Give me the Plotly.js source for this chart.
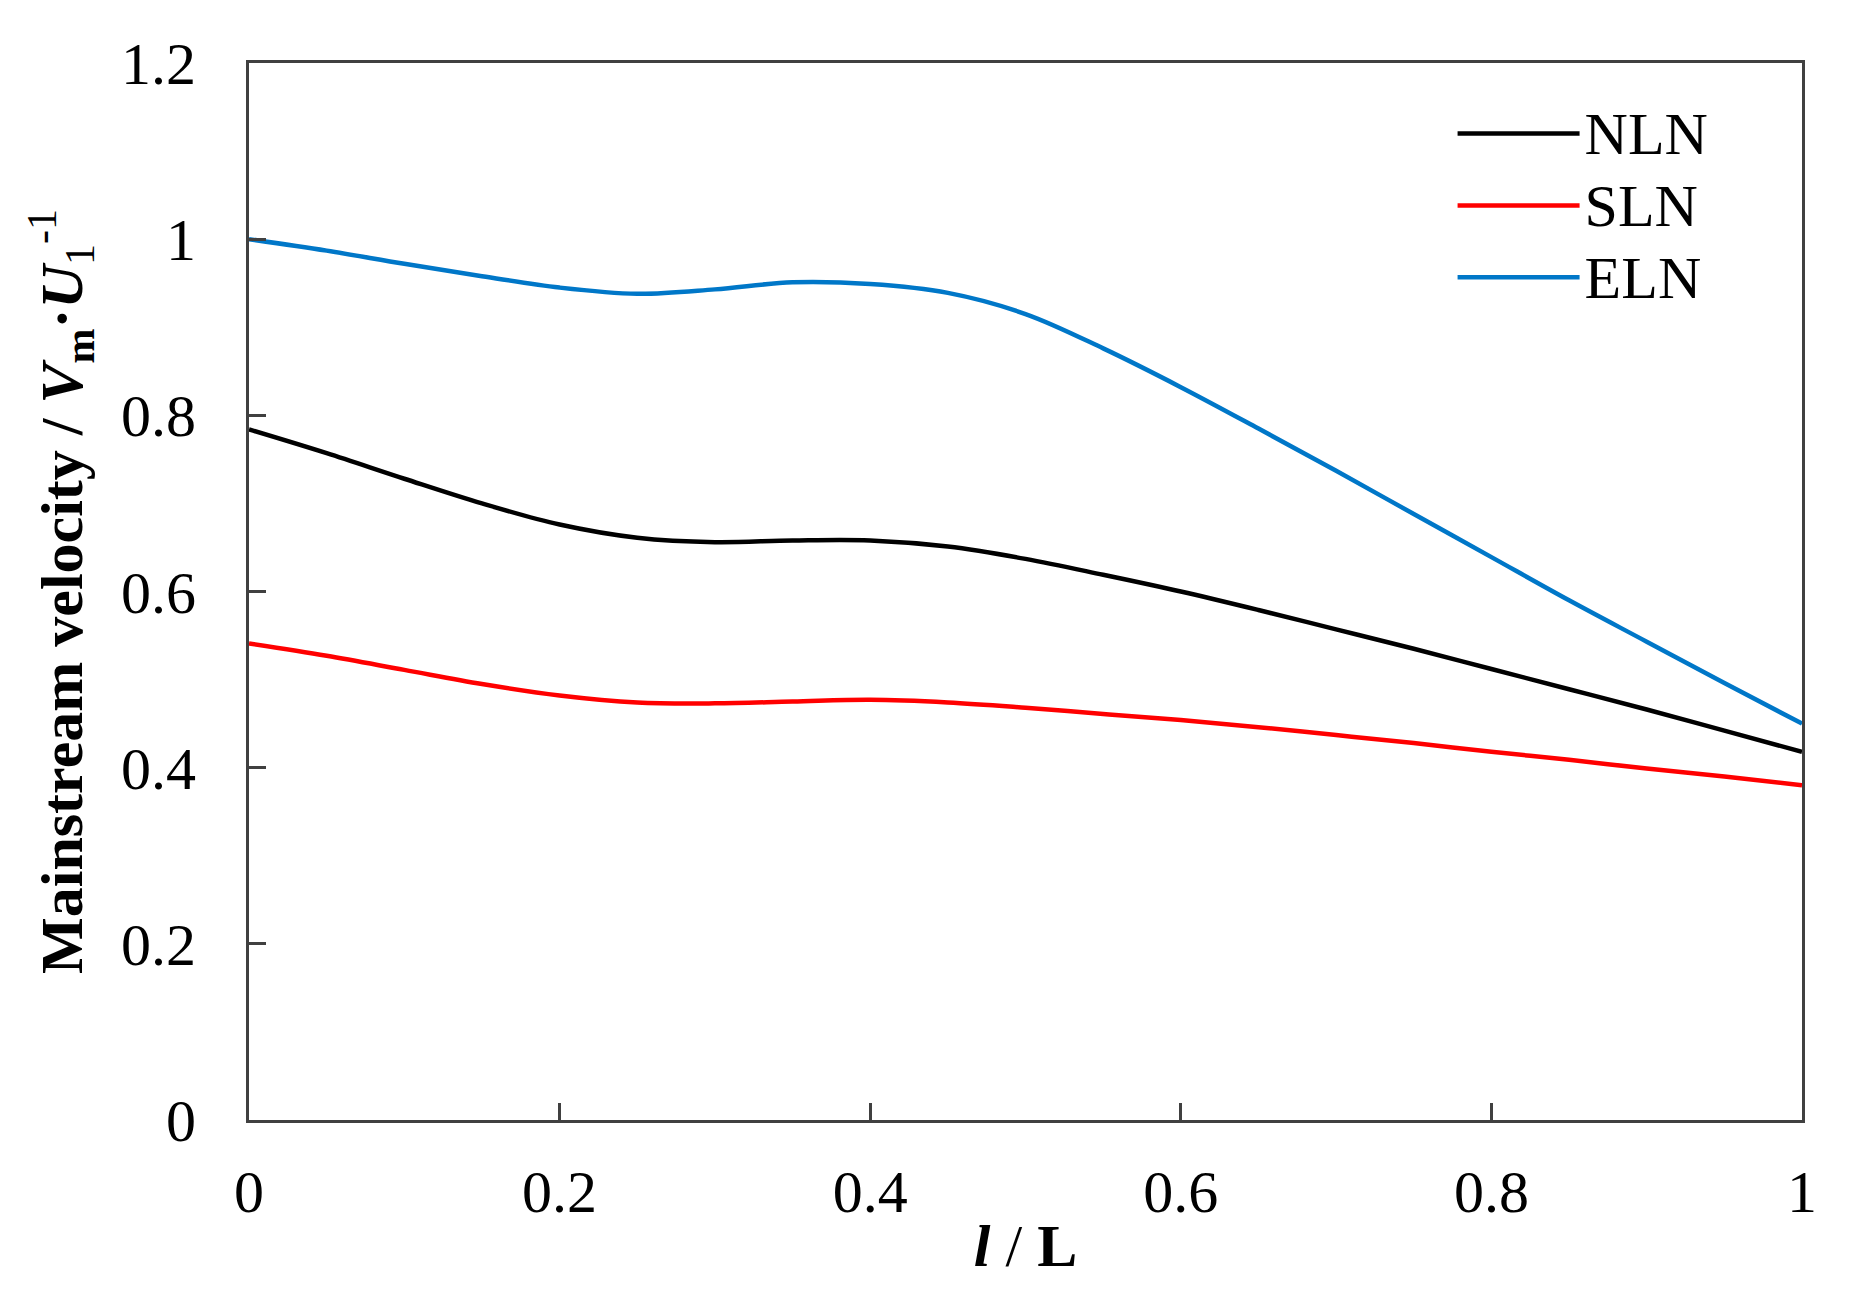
<!DOCTYPE html>
<html>
<head>
<meta charset="utf-8">
<script src="https://cdn.plot.ly/plotly-3.0.1.min.js"></script>
<style>html,body{margin:0;padding:0;background:#fff;}</style>
</head>
<body>
<div id="chart" style="width:1851px;height:1295px;"></div>
<script>
// Relative position along the channel, l / L
const positions = [0, 0.05, 0.1, 0.15, 0.2, 0.25, 0.3, 0.35, 0.4, 0.45, 0.5,
                   0.55, 0.6, 0.65, 0.7, 0.75, 0.8, 0.85, 0.9, 0.95, 1.0];
// Mainstream velocity  Vm / U1
const nlnValues = [0.784, 0.757, 0.728, 0.700, 0.676, 0.661, 0.656, 0.658, 0.658, 0.651, 0.637,
                   0.619, 0.600, 0.579, 0.557, 0.535, 0.512, 0.489, 0.466, 0.442, 0.418];
const slnValues = [0.541, 0.527, 0.511, 0.495, 0.482, 0.474, 0.473, 0.475, 0.477, 0.474, 0.468,
                   0.461, 0.454, 0.446, 0.437, 0.428, 0.418, 0.409, 0.399, 0.390, 0.380];
const elnValues = [1.000, 0.987, 0.972, 0.958, 0.945, 0.938, 0.943, 0.951, 0.949, 0.939, 0.915,
                   0.876, 0.832, 0.785, 0.737, 0.688, 0.639, 0.590, 0.543, 0.496, 0.450];
const seriesNames = ['NLN', 'SLN', 'ELN'];
const xTickVals = [0, 0.2, 0.4, 0.6, 0.8, 1];
const xTickText = ['0', '0.2', '0.4', '0.6', '0.8', '1'];
const yTickVals = [0, 0.2, 0.4, 0.6, 0.8, 1, 1.2];
const yTickText = ['0', '0.2', '0.4', '0.6', '0.8', '1', '1.2'];

const serif = '"Liberation Serif", "Times New Roman", serif';
const colors = ['#000000', '#ff0000', '#0077c8'];
const values = [nlnValues, slnValues, elnValues];

const traces = seriesNames.map((name, i) => ({
  x: positions,
  y: values[i],
  name: '<span style="font-size:60px">' + name + '</span>',
  type: 'scatter',
  mode: 'lines',
  line: {color: colors[i], width: 4.5, shape: 'spline', smoothing: 1},
  hovertemplate: name + ': %{y:.3f}<extra></extra>'
}));

const axisCommon = {
  showgrid: false,
  zeroline: false,
  showline: true,
  linecolor: '#404040',
  linewidth: 3,
  mirror: true,
  ticks: 'inside',
  ticklen: 17,
  tickwidth: 3,
  tickcolor: '#404040',
  tickfont: {family: serif, size: 60, color: '#000'},
  tickmode: 'array'
};

const layout = {
  width: 1851,
  height: 1295,
  paper_bgcolor: '#ffffff',
  plot_bgcolor: '#ffffff',
  margin: {l: 249, r: 49, t: 63, b: 175},
  showlegend: true,
  legend: {
    x: 0.775, y: 0.972, xanchor: 'left', yanchor: 'top',
    bgcolor: 'rgba(0,0,0,0)',
    borderwidth: 0,
    font: {family: serif, size: 53, color: '#000'},
    itemwidth: 122,
    tracegroupgap: 0
  },
  xaxis: Object.assign({}, axisCommon, {
    range: [0, 1],
    tickvals: xTickVals,
    ticktext: xTickText,
    ticklabelstandoff: 17,
    title: {text: '<b><i>l</i></b> / <b>L</b>', font: {family: serif, size: 60, color: '#000'}, standoff: 0}
  }),
  yaxis: Object.assign({}, axisCommon, {
    range: [0, 1.2],
    tickvals: yTickVals,
    ticktext: yTickText,
    ticklabelstandoff: 38,
    title: {
      text: '<b>Mainstream velocity / <i>V</i><sub>m</sub>·<i>U</i></b><sub>1</sub><sup>-1</sup>',
      font: {family: serif, size: 60, color: '#000'},
      standoff: 20
    }
  })
};

Plotly.newPlot('chart', traces, layout, {displayModeBar: false});
</script>
</body>
</html>
